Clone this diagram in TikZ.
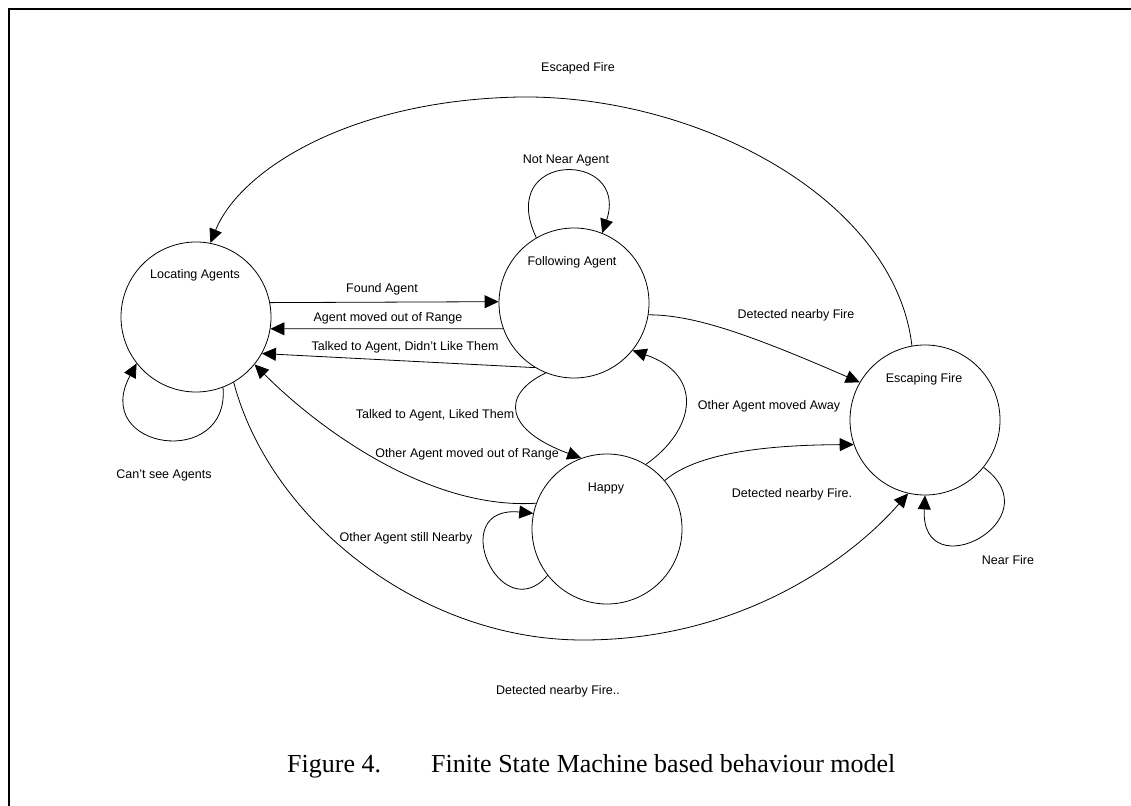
\documentclass[tikz,border=0pt]{standalone}
\usepackage{fontspec}
\setmainfont{Liberation Sans}
\newfontfamily\capfont{Liberation Serif}
\usetikzlibrary{arrows.meta}
\begin{document}
\begin{tikzpicture}[x=1pt,y=-1pt,
  state/.style={draw, circle, minimum size=150pt, inner sep=0pt, line width=0.8pt},
  lbl/.style={inner sep=0pt, font=\fontsize{12.5}{15}\selectfont, text height=9pt, text depth=0pt},
  trans/.style={draw, line width=0.8pt, -{Triangle[length=14pt,width=13pt]}},
]
\useasboundingbox (0,0) rectangle (1131,805);
% page frame (only top and left edges fall inside the picture)
\draw[line width=1.8pt] (9,830) -- (9,9) -- (1150,9);

% states
\node[state] (L) at (196,317) {};
\node[state] (F) at (574,303) {};
\node[state] (E) at (925,420) {};
\node[state] (H) at (607,529) {};
\node[lbl] (Lname) at (195,274) {Locating Agents};
\node[lbl] (Fname) at (572,261) {Following Agent};
\node[lbl] (Ename) at (924,378) {Escaping Fire};
\node[lbl] (Hname) at (606,487) {Happy};

% transitions
\draw[trans] (L.11.5) -- (F.179);
\draw[trans] (F.200.3) -- (L.-9.2);
\draw[trans] (F.239.6) -- (L.-29.3);
\draw[trans] (F.248.9) .. controls (500,395) and (505,430) .. (H.110.8);
\draw[trans] (H.160.1) .. controls (430,510) and (320,430) .. (L.-39.1);
\draw[trans] (H.218.5) .. controls (500,630) and (445,505) .. (H.168.5);
\draw[trans] (H.59.7) .. controls (695,430) and (705,375) .. (F.-39);
\draw[trans] (H.40.2) .. controls (700,450) and (780,445) .. (E.199.1);
\draw[trans] (F.-9.1) .. controls (690,315) and (740,330) .. (E.150.7);
\draw[trans] (E.100.7) .. controls (895,200) and (700,95) .. (520,97)
                       .. controls (350,100) and (240,170) .. (L.79.7);
\draw[trans] (L.-60.7) .. controls (270,520) and (420,640) .. (583,640)
                       .. controls (740,640) and (850,560) .. (E.257.1);
\draw[trans] (L.-69.6) .. controls (230,470) and (90,450) .. (L.218.5);
\draw[trans] (F.120.6) .. controls (495,150) and (630,150) .. (F.68.5);
\draw[trans] (E.-39.5) .. controls (1055,520) and (920,590) .. (E.-90);

% transition labels
\node[lbl] (t1) at (382,288) {Found Agent};
\node[lbl] (t2) at (388,317) {Agent moved out of Range};
\node[lbl] (t3) at (405,346) {Talked to Agent, Didn't Like Them};
\node[lbl] (t4) at (435,414) {Talked to Agent, Liked Them};
\node[lbl] (t5) at (467,453) {Other Agent moved out of Range};
\node[lbl] (t6) at (406,537) {Other Agent still Nearby};
\node[lbl] (t7) at (769,405) {Other Agent moved Away};
\node[lbl] (t8) at (792,493) {Detected nearby Fire.};
\node[lbl] (t9) at (796,314) {Detected nearby Fire};
\node[lbl] (t10) at (578,67) {Escaped Fire};
\node[lbl] (t11) at (558,690) {Detected nearby Fire..};
\node[lbl] (t12) at (164,474) {Can't see Agents};
\node[lbl] (t13) at (566,159) {Not Near Agent};
\node[lbl] (t14) at (1008,560) {Near Fire};

% caption
\node[anchor=west, inner sep=0pt, font=\capfont\fontsize{26}{30}\selectfont]
  (cap) at (287,766) {Figure 4.\hspace{50pt}Finite State Machine based behaviour model};
\end{tikzpicture}
\end{document}
